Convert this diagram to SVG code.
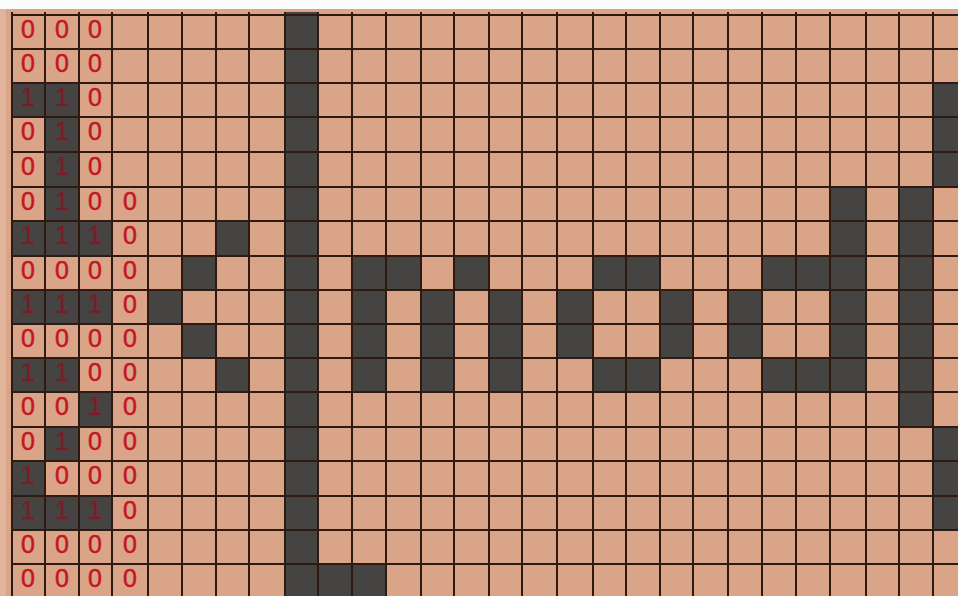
<svg xmlns="http://www.w3.org/2000/svg" width="958" height="596" viewBox="0 0 958 596">
<style>
.paper{fill:#daa488}
.d{fill:#454443}
.g{stroke:#2e1a10;stroke-width:2;fill:none}
.t{font-family:"Liberation Sans",Arial,sans-serif;font-size:25px;fill:#c4161f;stroke:#c4161f;stroke-width:0.5;text-anchor:middle}
.t1{fill:#7e1b27;stroke:#7e1b27}
</style>
<rect x="0" y="0" width="958" height="596" class="paper"/>
<rect x="0" y="0" width="958" height="9" fill="#fbfbfb"/>
<rect x="0" y="9" width="6" height="587" fill="#e2b49b"/>
<g id="cells">
<rect class="d" x="12" y="83" width="67" height="34"/>
<rect class="d" x="45" y="117" width="34" height="104"/>
<rect class="d" x="12" y="221" width="100" height="35"/>
<rect class="d" x="12" y="290" width="100" height="34"/>
<rect class="d" x="12" y="358" width="67" height="34"/>
<rect class="d" x="79" y="392" width="33" height="35"/>
<rect class="d" x="45" y="427" width="34" height="34"/>
<rect class="d" x="12" y="461" width="33" height="35"/>
<rect class="d" x="12" y="496" width="100" height="34"/>
<rect class="d" x="216" y="221" width="33" height="35"/>
<rect class="d" x="182" y="256" width="34" height="34"/>
<rect class="d" x="148" y="290" width="34" height="34"/>
<rect class="d" x="182" y="324" width="34" height="34"/>
<rect class="d" x="216" y="358" width="33" height="34"/>
<rect class="d" x="285" y="12" width="33" height="586"/>
<rect class="d" x="318" y="564" width="68" height="34"/>
<rect class="d" x="352" y="256" width="69" height="34"/>
<rect class="d" x="454" y="256" width="35" height="34"/>
<rect class="d" x="352" y="290" width="34" height="102"/>
<rect class="d" x="421" y="290" width="33" height="102"/>
<rect class="d" x="489" y="290" width="33" height="102"/>
<rect class="d" x="593" y="256" width="67" height="34"/>
<rect class="d" x="557" y="290" width="36" height="68"/>
<rect class="d" x="660" y="290" width="33" height="68"/>
<rect class="d" x="593" y="358" width="67" height="34"/>
<rect class="d" x="762" y="256" width="68" height="34"/>
<rect class="d" x="728" y="290" width="34" height="68"/>
<rect class="d" x="762" y="358" width="68" height="34"/>
<rect class="d" x="830" y="187" width="36" height="205"/>
<rect class="d" x="899" y="187" width="34" height="240"/>
<rect class="d" x="933" y="83" width="25" height="104"/>
<rect class="d" x="933" y="427" width="25" height="103"/>
</g>
<g id="grid" class="g">
<path d="M12 12V596M45 12V596M79 12V596M112 12V596M148 12V596M182 12V596M216 12V596M249 12V596M285 12V596M318 12V596M352 12V596M386 12V596M421 12V596M454 12V596M489 12V596M522 12V596M557 12V596M593 12V596M626 12V596M660 12V596M693 12V596M728 12V596M762 12V596M796 12V596M830 12V596M866 12V596M899 12V596M933 12V596"/>
<path d="M12 15H958M12 49H958M12 83H958M12 117H958M12 152H958M12 187H958M12 221H958M12 256H958M12 290H958M12 324H958M12 358H958M12 392H958M12 427H958M12 461H958M12 496H958M12 530H958M12 564H958"/>
</g>
<g id="digits" class="t">
<text x="28" y="38">0</text><text x="62" y="38">0</text><text x="95" y="38">0</text>
<text x="28" y="72">0</text><text x="62" y="72">0</text><text x="95" y="72">0</text>
<text x="28" y="106" class="t1">1</text><text x="62" y="106" class="t1">1</text><text x="95" y="106">0</text>
<text x="28" y="140">0</text><text x="62" y="140" class="t1">1</text><text x="95" y="140">0</text>
<text x="28" y="175">0</text><text x="62" y="175" class="t1">1</text><text x="95" y="175">0</text>
<text x="28" y="210">0</text><text x="62" y="210" class="t1">1</text><text x="95" y="210">0</text><text x="130" y="210">0</text>
<text x="28" y="244" class="t1">1</text><text x="62" y="244" class="t1">1</text><text x="95" y="244" class="t1">1</text><text x="130" y="244">0</text>
<text x="28" y="279">0</text><text x="62" y="279">0</text><text x="95" y="279">0</text><text x="130" y="279">0</text>
<text x="28" y="313" class="t1">1</text><text x="62" y="313" class="t1">1</text><text x="95" y="313" class="t1">1</text><text x="130" y="313">0</text>
<text x="28" y="347">0</text><text x="62" y="347">0</text><text x="95" y="347">0</text><text x="130" y="347">0</text>
<text x="28" y="381" class="t1">1</text><text x="62" y="381" class="t1">1</text><text x="95" y="381">0</text><text x="130" y="381">0</text>
<text x="28" y="415">0</text><text x="62" y="415">0</text><text x="95" y="415" class="t1">1</text><text x="130" y="415">0</text>
<text x="28" y="450">0</text><text x="62" y="450" class="t1">1</text><text x="95" y="450">0</text><text x="130" y="450">0</text>
<text x="28" y="484" class="t1">1</text><text x="62" y="484">0</text><text x="95" y="484">0</text><text x="130" y="484">0</text>
<text x="28" y="519" class="t1">1</text><text x="62" y="519" class="t1">1</text><text x="95" y="519" class="t1">1</text><text x="130" y="519">0</text>
<text x="28" y="553">0</text><text x="62" y="553">0</text><text x="95" y="553">0</text><text x="130" y="553">0</text>
<text x="28" y="587">0</text><text x="62" y="587">0</text><text x="95" y="587">0</text><text x="130" y="587">0</text>
</g>
</svg>
